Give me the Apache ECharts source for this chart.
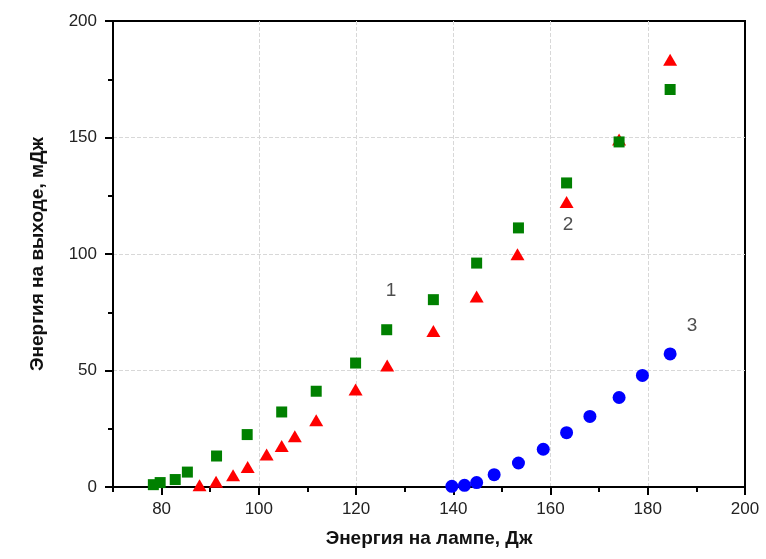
<!DOCTYPE html>
<html>
<head>
<meta charset="utf-8">
<script src="https://cdn.jsdelivr.net/npm/echarts@6/dist/echarts.min.js"></script>
<style>
  html, body { margin: 0; padding: 0; background: #fff; }
  #chart { width: 766px; height: 559px; }
</style>
</head>
<body>
<div id="chart"></div>
<script>
// series 1 - green squares
const lampGreen = [78.3, 79.7, 82.8, 85.3, 91.3, 97.6, 104.7, 111.8, 119.9, 126.3, 135.9, 144.8, 153.4, 163.3, 174.1, 184.6];
const outGreen  = [1.0, 1.9, 3.2, 6.4, 13.3, 22.5, 32.2, 41.1, 53.2, 67.5, 80.4, 96.1, 111.2, 130.5, 148.1, 170.6];
// series 2 - red triangles
const lampRed = [87.8, 91.2, 94.7, 97.7, 101.6, 104.7, 107.4, 111.8, 119.9, 126.4, 135.9, 144.8, 153.2, 163.3, 174.1, 184.6];
const outRed  = [0.8, 2.2, 5.0, 8.6, 14.0, 17.6, 21.8, 28.6, 41.8, 52.1, 67.0, 81.8, 99.9, 122.3, 149.1, 183.4];
// series 3 - blue circles
const lampBlue = [139.7, 142.3, 144.8, 148.4, 153.4, 158.5, 163.3, 168.1, 174.1, 178.9, 184.6];
const outBlue  = [0.3, 0.7, 1.9, 5.3, 10.3, 16.2, 23.3, 30.3, 38.4, 47.9, 57.1];
// x tick labels (major) and minor tick positions
const xMajor = [80, 100, 120, 140, 160, 180, 200];
const xMinor = [70, 90, 110, 130, 150, 170, 190];
// curve labels
const curveLabels = ["1", "2", "3"];
const labelX = [127.2, 163.6, 189.1];
const labelY = [84.3, 112.7, 69.4];

const zip = (xs, ys) => xs.map((x, i) => [x, ys[i]]);

let chart = echarts.init(document.getElementById("chart"));
const tickFont = { fontFamily: "Liberation Sans, Arial, sans-serif", fontSize: 17, color: "#222" };
const titleFont = { fontFamily: "Liberation Sans, Arial, sans-serif", fontSize: 19, fontWeight: "bold", color: "#111" };
const blackLine = { color: "#000", width: 2 };
const gridLine = { show: true, showMinLine: false, showMaxLine: false, lineStyle: { color: "#d8d8d8", type: "dashed", width: 1 } };

chart.setOption({
  backgroundColor: "#fff",
  animation: false,
  grid: {
    left: 113, right: 21, top: 21, bottom: 72,
    show: true, borderColor: "#000", borderWidth: 2, backgroundColor: "transparent"
  },
  xAxis: [
    {
      type: "value", min: 70, max: 200, interval: 10,
      name: "Энергия на лампе, Дж", nameLocation: "middle", nameGap: 42,
      nameTextStyle: titleFont,
      axisLine: { onZero: false, lineStyle: blackLine },
      axisTick: { inside: false, length: 8, customValues: xMajor, lineStyle: blackLine },
      axisLabel: Object.assign({ margin: 14, customValues: xMajor }, tickFont),
      splitLine: gridLine
    },
    {
      // minor ticks only
      type: "value", min: 70, max: 200, position: "bottom",
      axisLine: { show: false },
      axisTick: { inside: false, length: 5, customValues: xMinor, lineStyle: blackLine },
      axisLabel: { show: false },
      splitLine: { show: false }
    }
  ],
  yAxis: {
    type: "value", min: 0, max: 200, interval: 50,
    name: "Энергия на выходе, мДж", nameLocation: "middle", nameGap: 66,
    nameTextStyle: titleFont,
    axisLine: { onZero: false, lineStyle: blackLine },
    axisTick: { inside: false, length: 8, lineStyle: blackLine },
    minorTick: { show: true, splitNumber: 2, length: 5, lineStyle: blackLine },
    axisLabel: Object.assign({ margin: 16 }, tickFont),
    splitLine: gridLine
  },
  series: [
    {
      name: "2", type: "scatter", symbol: "triangle", symbolSize: [14, 12],
      itemStyle: { color: "#ff0000", opacity: 1 },
      data: zip(lampRed, outRed)
    },
    {
      name: "1", type: "scatter", symbol: "rect", symbolSize: 11,
      itemStyle: { color: "#008000", opacity: 1 },
      data: zip(lampGreen, outGreen)
    },
    {
      name: "3", type: "scatter", symbol: "circle", symbolSize: 13,
      itemStyle: { color: "#0000ff", opacity: 1 },
      data: zip(lampBlue, outBlue)
    },
    {
      name: "labels", type: "scatter", symbolSize: 0, silent: true,
      label: {
        show: true, position: "inside",
        fontFamily: "Liberation Sans, Arial, sans-serif", fontSize: 19, color: "#222",
        formatter: p => p.data[2]
      },
      data: labelX.map((x, i) => [x, labelY[i], curveLabels[i]])
    }
  ]
});
</script>
</body>
</html>
